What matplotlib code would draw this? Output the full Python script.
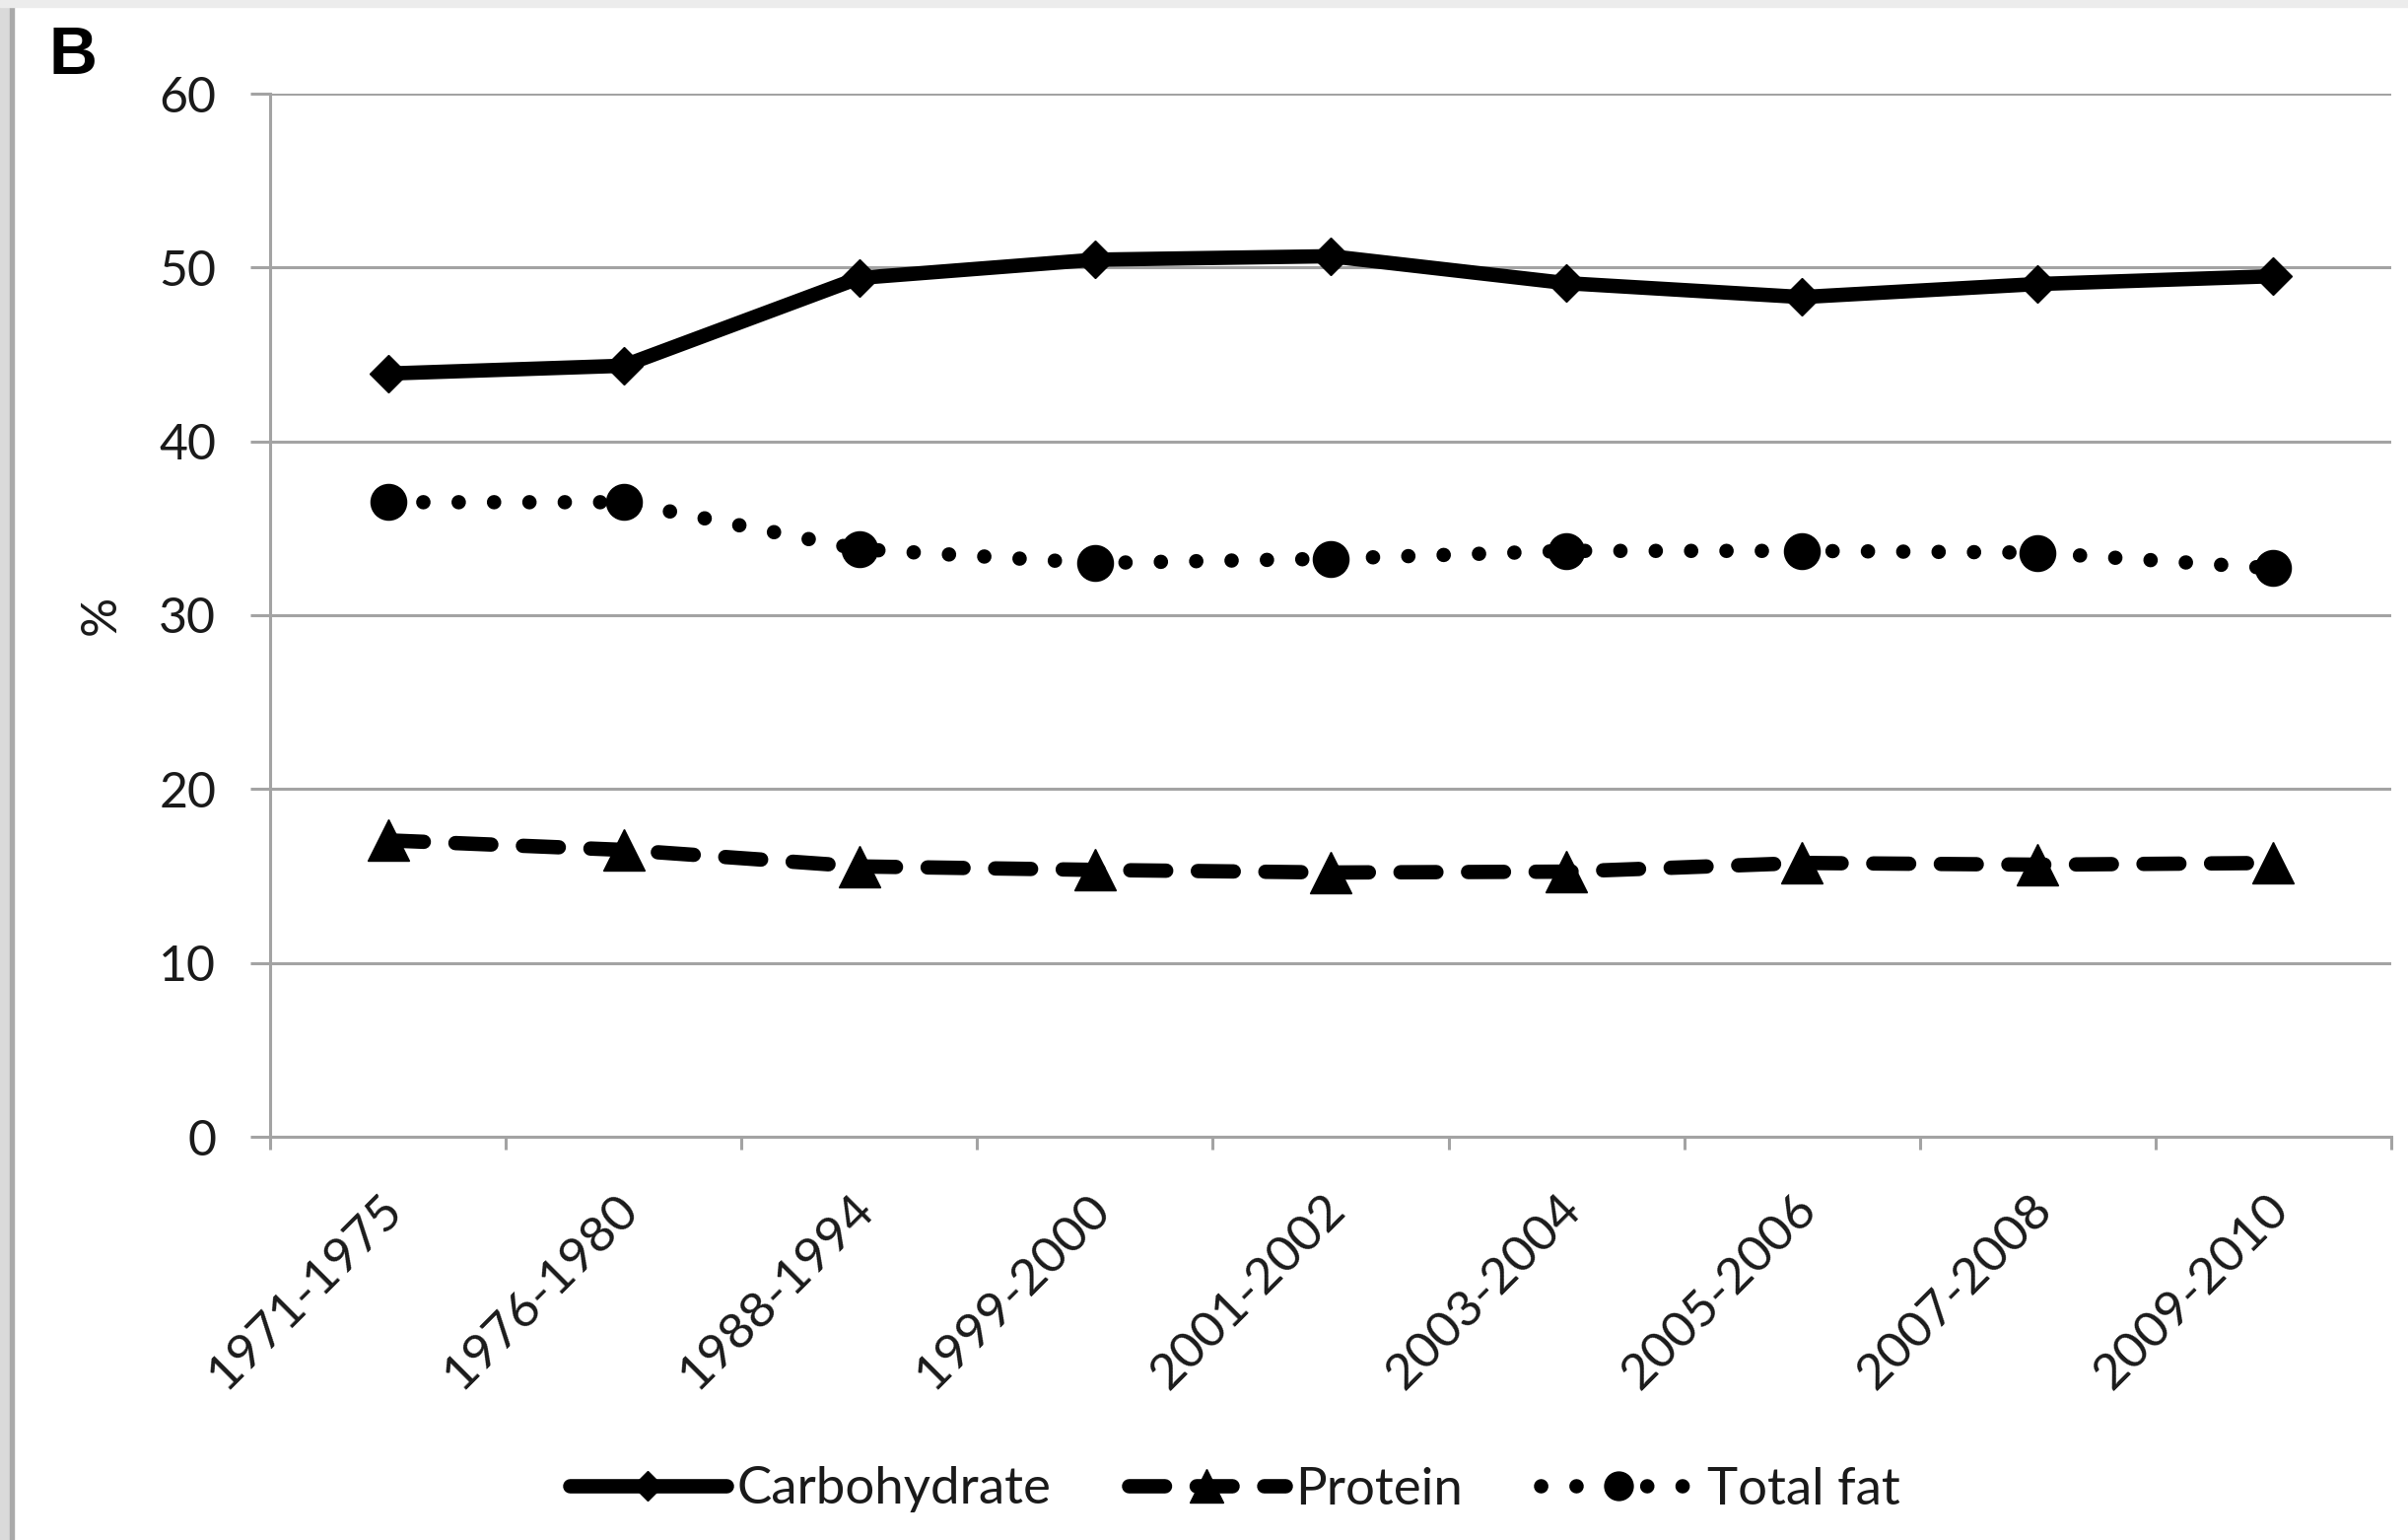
import matplotlib
matplotlib.use("Agg")
import matplotlib.pyplot as plt
import matplotlib.transforms as mtrans
from matplotlib.patches import Rectangle
from matplotlib.ticker import FixedLocator, NullFormatter, FixedFormatter

# ---- data -------------------------------------------------------------
periods = ["1971-1975", "1976-1980", "1988-1994", "1999-2000", "2001-2002",
           "2003-2004", "2005-2006", "2007-2008", "2009-2010"]
carbohydrate = [43.9, 44.35, 49.4, 50.45, 50.65, 49.1, 48.3, 49.05, 49.5]
protein = [17.05, 16.5, 15.55, 15.35, 15.2, 15.25, 15.75, 15.65, 15.75]
total_fat = [36.5, 36.5, 33.8, 33.0, 33.25, 33.7, 33.7, 33.6, 32.7]
series_names = ["Carbohydrate", "Protein", "Total fat"]
y_ticks = [0, 10, 20, 30, 40, 50, 60]
panel_letter = "B"
y_label = "%"

# ---- figure -----------------------------------------------------------
plt.rcParams["font.family"] = ["Lato", "DejaVu Sans"]
W, H = 2443, 1562
DPI = 100
fig = plt.figure(figsize=(W / DPI, H / DPI), dpi=DPI)
fig.patch.set_facecolor("white")

# screenshot-like frame
fig.patches.append(Rectangle((0, 0), 10 / W, 1, transform=fig.transFigure,
                             color="#dadada", zorder=0))
fig.patches.append(Rectangle((10 / W, 0), 4 / W, 1, transform=fig.transFigure,
                             color="#aaaaaa", zorder=0))
fig.patches.append(Rectangle((0, 1 - 7 / H), 1, 7 / H, transform=fig.transFigure,
                             color="#ececec", zorder=0))

left, right, top, bottom = 274, 2426, 95, 1153
ax = fig.add_axes([left / W, 1 - bottom / H, (right - left) / W, (bottom - top) / H])

x = list(range(len(periods)))
grid_c = "#a3a3a3"
txt_c = "#1a1a1a"

ax.plot(x, carbohydrate, color="black", lw=10.5, solid_joinstyle="round",
        solid_capstyle="round", marker="D", ms=19, mfc="black", mec="black",
        label=series_names[0], zorder=4, clip_on=False)
ax.plot(x, protein, color="black", lw=10.5, ls=(0, (2.5, 2.2)),
        dash_capstyle="round", marker="^", ms=30, mfc="black", mec="black",
        label=series_names[1], zorder=4, clip_on=False)
ax.plot(x, total_fat, color="black", lw=10.5, ls=(0, (0.01, 2.45)),
        dash_capstyle="round", marker="o", ms=26, mfc="black", mec="black",
        label=series_names[2], zorder=4, clip_on=False)

ax.set_xlim(-0.5, len(periods) - 0.5)
ax.set_ylim(y_ticks[0], y_ticks[-1])

# y axis
ax.set_yticks(y_ticks)
ax.yaxis.grid(True, color=grid_c, lw=2.2)
ax.set_axisbelow(True)
ax.tick_params(axis="y", direction="out", length=14.5, width=2.2, color=grid_c,
               labelsize=36, labelcolor=txt_c, pad=25)

# x axis: ticks at category boundaries, labels at centers
ax.xaxis.set_major_locator(FixedLocator([i - 0.5 for i in range(len(periods) + 1)]))
ax.xaxis.set_major_formatter(NullFormatter())
ax.xaxis.set_minor_locator(FixedLocator(x))
ax.xaxis.set_minor_formatter(FixedFormatter(periods))
ax.tick_params(axis="x", which="major", direction="out", length=9, width=2.2,
               color=grid_c)
ax.tick_params(axis="x", which="minor", length=0, labelsize=37,
               labelcolor=txt_c, pad=36)
offset = mtrans.ScaledTranslation(24 / DPI, 0, fig.dpi_scale_trans)
for lab in ax.get_xticklabels(minor=True):
    lab.set_rotation(45)
    lab.set_ha("right")
    lab.set_va("top")
    lab.set_transform(lab.get_transform() + offset)

for s in ["top", "right"]:
    ax.spines[s].set_visible(False)
for s in ["left", "bottom"]:
    ax.spines[s].set_color(grid_c)
    ax.spines[s].set_linewidth(2.2)

ax.set_ylabel(y_label, fontsize=36, color=txt_c)
ax.yaxis.set_label_coords(-0.069, 0.5)

fig.text(50 / W, 1 - 75 / H, panel_letter, fontsize=49, fontweight="bold",
         family=["Liberation Sans", "DejaVu Sans"], ha="left", va="baseline")

fig.legend(loc="center", bbox_to_anchor=(1253 / W, 1 - 1511 / H), ncol=3,
           frameon=False, fontsize=38, handlelength=3.0, handletextpad=0.2,
           columnspacing=1.5, numpoints=1, markerscale=0.8, labelcolor=txt_c)

fig.savefig("out.png", dpi=DPI, facecolor="white")
